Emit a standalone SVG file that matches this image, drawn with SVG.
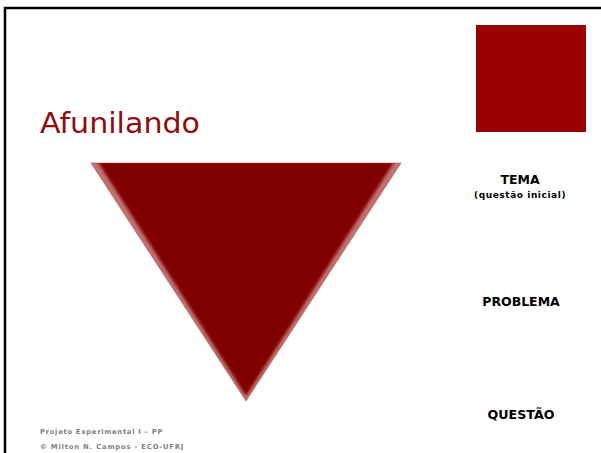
<svg xmlns="http://www.w3.org/2000/svg" width="601" height="453" viewBox="0 0 601 453">
  <style>
    .lbl { font-family: "DejaVu Sans", "Liberation Sans", sans-serif; font-weight: bold; fill: #000; text-anchor: middle; }
    .foot { font-family: "DejaVu Sans", "Liberation Sans", sans-serif; font-weight: bold; fill: #808080; font-size: 6.8px; letter-spacing: 0.6px; }
  </style>
  <defs>
    <clipPath id="triClip">
      <polygon points="91,163 401,163 246,401"/>
    </clipPath>
    <filter id="soft" x="-10%" y="-10%" width="120%" height="120%">
      <feGaussianBlur stdDeviation="1.6"/>
    </filter>
  </defs>
  <rect x="0" y="0" width="601" height="453" fill="#ffffff"/>
  <g id="frame">
    <line x1="4" y1="8" x2="601" y2="8" stroke="#000" stroke-width="2.5"/>
    <line x1="5" y1="7" x2="5" y2="453" stroke="#000" stroke-width="2.5"/>
  </g>
  <g id="square">
    <rect x="476" y="25" width="110" height="107" fill="#990000"/>
  </g>
  <g id="title">
    <text x="40" y="133" font-family="'DejaVu Sans', 'Liberation Sans', sans-serif" font-size="28" fill="#8e0e0e" textLength="160" lengthAdjust="spacingAndGlyphs">Afunilando</text>
  </g>
  <g id="funnel">
    <g clip-path="url(#triClip)">
      <rect x="85" y="158" width="322" height="248" fill="#c27070"/>
      <polygon points="91,150 401,150 394,162 246,396 98,162" fill="#800000" filter="url(#soft)"/>
    </g>
    <polygon points="91,163 401,163 246,401" fill="none" stroke="#b05050" stroke-width="0.6"/>
  </g>
  <g id="tema">
    <text class="lbl" x="520" y="184" font-size="12.5">TEMA</text>
    <text class="lbl" x="520" y="198" font-size="9" letter-spacing="0.5" textLength="92" lengthAdjust="spacing">(questão inicial)</text>
  </g>
  <g id="problema">
    <text class="lbl" x="521" y="306" font-size="12.5">PROBLEMA</text>
  </g>
  <g id="questao">
    <text class="lbl" x="521" y="419" font-size="12.5" textLength="67" lengthAdjust="spacingAndGlyphs">QUESTÃO</text>
  </g>
  <g id="footer">
    <text class="foot" x="40" y="434" textLength="123" lengthAdjust="spacing">Projeto Experimental I –  PP</text>
    <text class="foot" x="40" y="449" textLength="144" lengthAdjust="spacing">© Milton N. Campos - ECO-UFRJ</text>
  </g>
</svg>
